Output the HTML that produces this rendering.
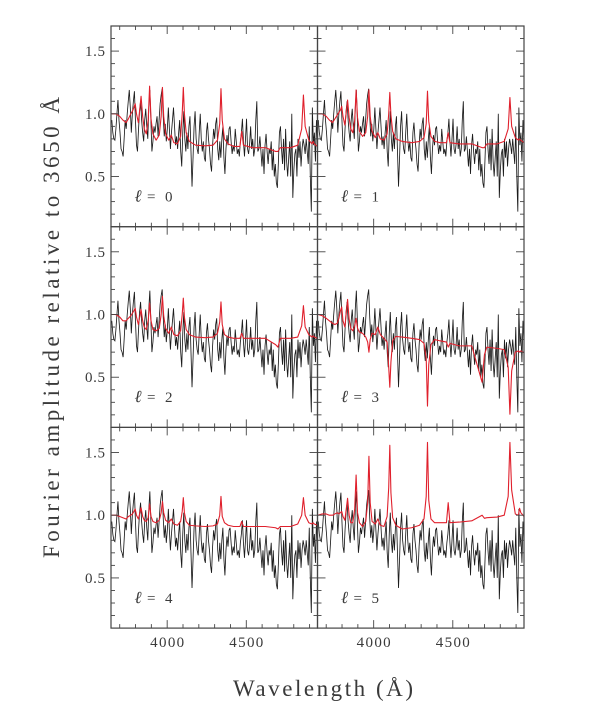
<!DOCTYPE html>
<html>
<head>
<meta charset="utf-8">
<style>
html,body{margin:0;padding:0;background:#fff;}
svg{display:block;}
text{font-family:"Liberation Serif",serif;fill:#3a3a3a;}
</style>
</head>
<body>
<svg id="chart" xmlns="http://www.w3.org/2000/svg" width="600" height="717" viewBox="0 0 600 717">
<text x="233" y="696" font-size="23" textLength="180" lengthAdjust="spacing">Wavelength (Å)</text>
<text transform="translate(59,558) rotate(-90)" font-size="23" textLength="461" lengthAdjust="spacing">Fourier amplitude relative to 3650 Å</text>
</svg>
<script>
const panelDegrees = [0, 1, 2, 3, 4, 5];
const xTickMajor = [4000, 4500];
const xTickMinor = [3700, 3800, 3900, 4100, 4200, 4300, 4400, 4600, 4700, 4800, 4900];
const yTickMajor = [0.5, 1.0, 1.5];
const yTickMinor = [0.2, 0.3, 0.4, 0.6, 0.7, 0.8, 0.9, 1.1, 1.2, 1.3, 1.4, 1.6];
const xTickLabels = ['4000', '4500'];
const yTickLabels = ['0.5', '1.0', '1.5'];

const spectrumStart = 3650;
const spectrumStep = 6.5;
const spectrumValues = [
.95,.85,.80,.79,.88,1.0,1.11,.95,.85,.72,
.70,.66,.80,.95,.88,1.0,1.1,1.19,1.05,.85,
1.0,1.1,1.18,.95,.75,.70,.88,1.02,1.10,.95,
.85,.78,.95,1.04,.9,.8,1.05,1.19,.95,.7,
.78,.9,.85,.92,.98,.82,.95,1.08,1.15,1.2,
.98,.82,.92,.78,.88,1.05,.88,.72,.85,.95,
1.05,.9,.75,.82,.72,.85,.95,.7,.58,.85,
1.02,.8,.70,.85,.72,.9,.98,.7,.42,.65,
.9,1.02,.8,.72,.68,.85,1.0,.8,.7,.78,
.65,.62,.85,.93,.8,.72,.6,.54,.75,.88,
.8,.92,.97,.72,.63,.78,.65,.8,.9,.65,
.52,.72,.83,.75,.88,.9,.78,.68,.75,.7,
.88,.78,.68,.72,.66,.78,.85,.96,.78,.66,
.8,.96,.72,.68,.76,.9,.72,.8,.66,.72,
.95,1.1,.7,.72,.82,.7,.58,.72,.52,.75,
.84,.7,.6,.72,.68,.78,.55,.72,.5,.6,
.45,.41,.62,.85,.9,.72,.6,.8,.55,.88,
.62,.5,.65,.78,.5,1.0,.33,.55,.68,.72,
.5,.8,.65,.78,.58,.72,.8,.75,.68,.8,
.7,.6,.9,.5,.22,1.05,.75,.85,.62,.95,.78
];

const modelWaves = [
3650,3675,3700,3720,3740,3755,3770,3780,3790,3798,
3806,3818,3835,3845,3855,3868,3880,3889,3898,3910,
3930,3950,3962,3970,3978,3990,4010,4026,4042,4065,
4085,4095,4102,4109,4120,4140,4180,4240,4290,4318,
4332,4340,4348,4362,4385,4420,4460,4471,4482,4540,
4620,4685,4700,4715,4780,4825,4850,4861,4872,4895,
4915,4922,4930,4950
];
const modelL0 = [
1.00,1.00,.98,.95,.93,.96,1.00,1.02,1.05,1.08,
1.00,.93,1.14,.98,.88,.84,.95,1.22,.96,.84,
.79,.83,.98,1.21,.98,.84,.79,.83,.77,.76,
.82,1.00,1.21,1.00,.85,.78,.75,.745,.75,.79,
.92,1.20,.95,.80,.76,.74,.74,.86,.75,.73,
.73,.70,.70,.73,.73,.75,.88,1.15,.90,.79,
.76,.78,.76,.74
];
const modelL1 = [
1.00,1.00,.98,.95,.93,.96,.99,1.01,1.03,1.06,
.98,.91,1.11,.97,.88,.85,.95,1.19,.97,.86,
.82,.85,.98,1.19,.98,.86,.81,.85,.80,.79,
.84,1.00,1.17,.99,.86,.80,.78,.77,.78,.81,
.92,1.18,.94,.82,.78,.77,.77,.85,.77,.76,
.76,.73,.73,.76,.76,.78,.88,1.13,.90,.81,
.79,.80,.79,.77
];
const modelL2 = [
1.00,1.00,.98,.95,.95,.97,.99,1.01,1.03,1.05,
.98,.92,1.04,.95,.90,.88,.95,1.09,.95,.88,
.87,.89,1.00,1.145,.99,.89,.85,.90,.84,.83,
.87,1.00,1.13,.98,.88,.84,.82,.815,.82,.85,
.94,1.10,.92,.84,.82,.81,.81,.85,.81,.81,
.81,.76,.74,.81,.81,.82,.91,1.07,.90,.84,
.82,.83,.82,.81
];
const modelL3 = [
1.00,.99,.97,.95,.93,.92,.93,.97,1.03,1.06,
.95,.90,1.12,.96,.89,.87,.91,.97,.89,.86,
.85,.82,.78,.70,.80,.85,.84,.90,.84,.81,
.78,.58,.42,.62,.79,.825,.82,.81,.80,.77,
.65,.27,.60,.76,.80,.79,.78,.74,.77,.75,
.75,.46,.68,.74,.73,.72,.58,.205,.55,.70,
.71,.70,.71,.695
];
const modelL4 = [
1.00,1.00,.99,.98,.97,.99,1.00,1.01,1.03,1.05,
1.00,.97,1.06,.99,.96,.95,.98,1.09,.99,.95,
.94,.96,1.02,1.11,1.02,.96,.94,.97,.93,.92,
.95,1.03,1.14,1.02,.95,.92,.915,.91,.915,.93,
1.00,1.15,.99,.94,.92,.91,.91,.95,.91,.91,
.91,.90,.89,.91,.91,.93,1.00,1.14,1.00,.94,
.93,.94,.93,.92
];
const modelL5 = [
1.00,1.01,1.01,1.00,1.00,1.01,1.02,1.01,1.02,1.03,
.99,.96,1.135,1.00,.94,.94,1.05,1.32,1.02,.94,
.91,.95,1.10,1.47,1.10,.95,.93,.97,.92,.91,
.99,1.22,1.557,1.18,.98,.92,.89,.90,.92,.97,
1.15,1.58,1.12,.97,.94,.94,.94,1.10,.94,.945,
.955,1.00,.975,.98,.985,1.00,1.15,1.58,1.20,1.01,
1.00,1.055,1.02,.99
];
const modelSeries = [modelL0, modelL1, modelL2, modelL3, modelL4, modelL5];

const SVG_NS = 'http://www.w3.org/2000/svg';
const svg = document.getElementById('chart');
const PANEL_W = 206.5, PANEL_H = 200.7;
const X_MIN = 3645, X_MAX = 4950, Y_MIN = 0.1, Y_MAX = 1.7;
const colLeft = [111, 317.5];
const rowTop = [26, 226.7, 427.4];

function make(tag, attrs) {
  const el = document.createElementNS(SVG_NS, tag);
  for (const k in attrs) el.setAttribute(k, attrs[k]);
  return el;
}
function pathFrom(xs, ys, sx, sy) {
  let d = '';
  for (let i = 0; i < xs.length; i++) {
    d += (i ? 'L' : 'M') + sx(xs[i]).toFixed(2) + ' ' + sy(ys[i]).toFixed(2);
  }
  return d;
}

const defs = make('defs', {});
svg.appendChild(defs);

const spectrumWaves = spectrumValues.map((v, i) => spectrumStart + i * spectrumStep);

panelDegrees.forEach((degree, p) => {
  const col = p % 2, row = Math.floor(p / 2);
  const L = colLeft[col], T = rowTop[row];
  const sx = w => L + (w - X_MIN) / (X_MAX - X_MIN) * PANEL_W;
  const sy = v => T + (Y_MAX - v) / (Y_MAX - Y_MIN) * PANEL_H;

  const g = make('g', {});
  
  
  svg.appendChild(g);

  const clip = make('clipPath', {id: 'clip' + p});
  clip.appendChild(make('rect', {x: L, y: T, width: PANEL_W, height: PANEL_H}));
  defs.appendChild(clip);

  const spec = make('path', {
    d: pathFrom(spectrumWaves, spectrumValues, sx, sy),
    fill: 'none', stroke: '#1c1c1c', 'stroke-width': 0.85,
    'stroke-linejoin': 'miter', 'clip-path': 'url(#clip' + p + ')'
  });
  
  
  g.appendChild(spec);

  const model = make('path', {
    d: pathFrom(modelWaves, modelSeries[p], sx, sy),
    fill: 'none', stroke: '#e0202c', 'stroke-width': 1.1,
    'stroke-linejoin': 'round', 'clip-path': 'url(#clip' + p + ')'
  });
  
  
  g.appendChild(model);

  const frame = make('rect', {x: L, y: T, width: PANEL_W, height: PANEL_H, fill: 'none', stroke: '#444', 'stroke-width': 1.2});
  
  
  g.appendChild(frame);

  const ticks = make('g', {stroke: '#444', 'stroke-width': 0.9});
  
  
  g.appendChild(ticks);
  const addX = (w, len) => {
    ticks.appendChild(make('line', {x1: sx(w), x2: sx(w), y1: T, y2: T + len}));
    ticks.appendChild(make('line', {x1: sx(w), x2: sx(w), y1: T + PANEL_H, y2: T + PANEL_H - len}));
  };
  const addY = (v, len) => {
    ticks.appendChild(make('line', {x1: L, x2: L + len, y1: sy(v), y2: sy(v)}));
    ticks.appendChild(make('line', {x1: L + PANEL_W, x2: L + PANEL_W - len, y1: sy(v), y2: sy(v)}));
  };
  xTickMajor.forEach(w => addX(w, 8));
  xTickMinor.forEach(w => addX(w, 4));
  yTickMajor.forEach(v => addY(v, 8));
  yTickMinor.forEach(v => addY(v, 4));

  if (col === 0) {
    yTickMajor.forEach((v, i) => {
      const t = make('text', {x: 85, y: sy(v) + 5, 'font-size': 15, textLength: 20, lengthAdjust: 'spacing'});
      
      
      t.textContent = yTickLabels[i];
      g.appendChild(t);
    });
  }
  if (row === 2) {
    xTickMajor.forEach((w, i) => {
      const t = make('text', {x: sx(w) - 17, y: 647, 'font-size': 15, textLength: 34, lengthAdjust: 'spacing'});
      
      
      t.textContent = xTickLabels[i];
      g.appendChild(t);
    });
  }

  const ell = make('text', {x: L + 23.5, y: T + 175.5, 'font-size': 17, 'font-style': 'italic'});
  
  
  ell.textContent = 'ℓ';
  g.appendChild(ell);

  const eq = make('text', {x: L + 36, y: T + 175.5, 'font-size': 15});
  
  
  eq.textContent = '=';
  g.appendChild(eq);

  const num = make('text', {x: L + 54, y: T + 175.5, 'font-size': 15});
  
  
  num.textContent = String(degree);
  g.appendChild(num);
});
</script>
</body>
</html>
